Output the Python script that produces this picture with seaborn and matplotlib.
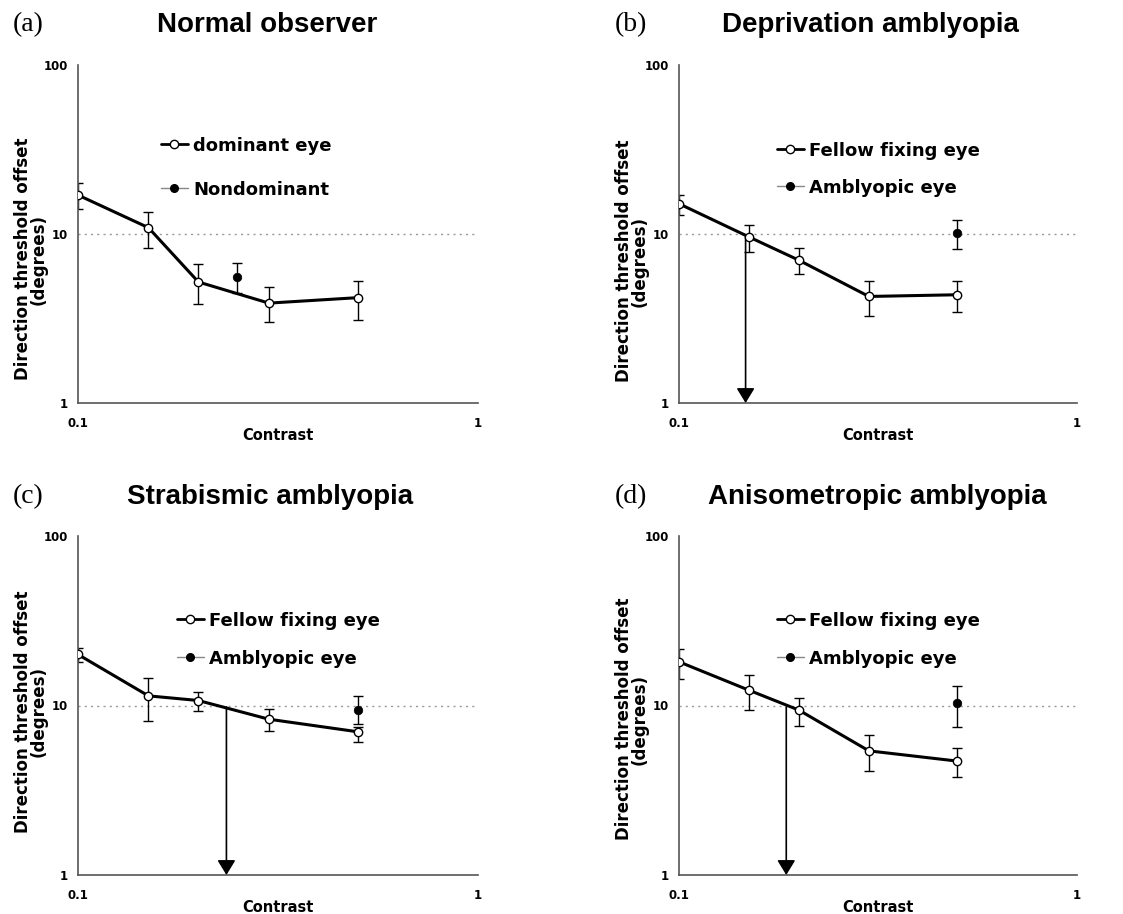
import numpy as np
import pandas as pd
import matplotlib
matplotlib.use("Agg")
import matplotlib.pyplot as plt
import seaborn as sns
from matplotlib.ticker import FixedLocator, FixedFormatter, NullLocator
from matplotlib.lines import Line2D

# ---------------- data ----------------
contrast = [0.1, 0.15, 0.2, 0.3, 0.5]

a_fellow = [17.0, 10.9, 5.2, 3.9, 4.2]
a_fellow_hi = [20.0, 13.5, 6.6, 4.85, 5.3]
a_fellow_lo = [14.0, 8.25, 3.85, 3.03, 3.1]
a_other_x = [0.25]
a_other = [5.6]
a_other_hi = [6.7]
a_other_lo = [4.5]

b_fellow = [15.1, 9.6, 7.0, 4.27, 4.37]
b_fellow_hi = [17.0, 11.3, 8.25, 5.24, 5.24]
b_fellow_lo = [13.0, 7.8, 5.8, 3.25, 3.47]
b_other_x = [0.5]
b_other = [10.1]
b_other_hi = [12.1]
b_other_lo = [8.2]
b_arrow = 0.147

c_fellow = [20.0, 11.4, 10.7, 8.3, 7.0]
c_fellow_hi = [21.9, 14.6, 12.0, 9.6, 7.5]
c_fellow_lo = [18.1, 8.1, 9.3, 7.1, 6.1]
c_other_x = [0.5]
c_other = [9.45]
c_other_hi = [11.4]
c_other_lo = [7.8]
c_arrow = 0.235

d_fellow = [18.1, 12.3, 9.4, 5.4, 4.7]
d_fellow_hi = [21.6, 15.1, 11.0, 6.7, 5.6]
d_fellow_lo = [14.4, 9.45, 7.6, 4.1, 3.8]
d_other_x = [0.5]
d_other = [10.3]
d_other_hi = [13.1]
d_other_lo = [7.5]
d_arrow = 0.186

arrow_top = 9.8

titles = ["Normal observer", "Deprivation amblyopia",
          "Strabismic amblyopia", "Anisometropic amblyopia"]
letters = ["(a)", "(b)", "(c)", "(d)"]
legend_a = ["dominant eye", "Nondominant"]
legend_amb = ["Fellow fixing eye", "Amblyopic eye"]
x_ticks = [0.1, 1]
x_ticklabels = ["0.1", "1"]
y_ticks = [1, 10, 100]
y_ticklabels = ["1", "10", "100"]

# ---------------- style ----------------
sns.set_style("white")
plt.rcParams['font.family'] = ['DejaVu Sans']
plt.rcParams['text.color'] = 'black'
plt.rcParams['axes.labelcolor'] = 'black'
plt.rcParams['xtick.labelcolor'] = 'black'
plt.rcParams['ytick.labelcolor'] = 'black'

W, H = 1123, 914
fig = plt.figure(figsize=(W / 100, H / 100), dpi=100)

# axes boxes in pixels: left, top, right, bottom
boxes = [(78, 65, 478, 403), (679, 65, 1077, 403),
         (78, 536, 478, 875), (679, 536, 1077, 875)]
ylabel_frac = [0.426, 0.420, 0.481, 0.46]

panels = [
    dict(f=a_fellow, fh=a_fellow_hi, fl=a_fellow_lo, ox=a_other_x, o=a_other,
         oh=a_other_hi, ol=a_other_lo, arrow=None, leg=legend_a,
         legpos=(163, 148, 192)),
    dict(f=b_fellow, fh=b_fellow_hi, fl=b_fellow_lo, ox=b_other_x, o=b_other,
         oh=b_other_hi, ol=b_other_lo, arrow=b_arrow, leg=legend_amb,
         legpos=(779, 153, 190)),
    dict(f=c_fellow, fh=c_fellow_hi, fl=c_fellow_lo, ox=c_other_x, o=c_other,
         oh=c_other_hi, ol=c_other_lo, arrow=c_arrow, leg=legend_amb,
         legpos=(179, 623, 661)),
    dict(f=d_fellow, fh=d_fellow_hi, fl=d_fellow_lo, ox=d_other_x, o=d_other,
         oh=d_other_hi, ol=d_other_lo, arrow=d_arrow, leg=legend_amb,
         legpos=(779, 623, 661)),
]

title_pos = [(267, 25), (870, 25), (270, 497), (877, 497)]
letter_pos = [(13, 25), (615, 25), (13, 497), (615, 497)]

spine_col = "#555555"

for i, (box, p) in enumerate(zip(boxes, panels)):
    l, t, r, b = box
    ax = fig.add_axes([l / W, 1 - b / H, (r - l) / W, (b - t) / H])
    ax.set_xscale("log")
    ax.set_yscale("log")
    ax.set_xlim(0.1, 1)
    ax.set_ylim(1, 100)

    # dotted reference line
    ax.axhline(10, color="#999999", lw=1, ls=(0, (1.5, 3)), zorder=1)

    df = pd.DataFrame({"contrast": contrast, "thr": p["f"]})
    yerr = [np.array(p["f"]) - np.array(p["fl"]), np.array(p["fh"]) - np.array(p["f"])]
    ax.errorbar(contrast, p["f"], yerr=yerr, fmt="none", ecolor="black",
                elinewidth=1, capsize=3.5, capthick=1, zorder=2)
    sns.lineplot(data=df, x="contrast", y="thr", ax=ax, color="black", lw=2.2,
                 marker="o", markersize=6, markerfacecolor="white",
                 markeredgecolor="black", markeredgewidth=1, zorder=4)

    yerr_o = [np.array(p["o"]) - np.array(p["ol"]), np.array(p["oh"]) - np.array(p["o"])]
    ax.errorbar(p["ox"], p["o"], yerr=yerr_o, fmt="none", ecolor="black",
                elinewidth=1, capsize=3.5, capthick=1, zorder=2)
    dfo = pd.DataFrame({"contrast": p["ox"], "thr": p["o"]})
    sns.scatterplot(data=dfo, x="contrast", y="thr", ax=ax, color="black",
                    s=38, edgecolor="black", zorder=5)

    if p["arrow"] is not None:
        ax.annotate("", xy=(p["arrow"], 1), xytext=(p["arrow"], arrow_top),
                    arrowprops=dict(arrowstyle="-|>,head_width=0.55,head_length=0.9",
                                    color="black", lw=1.2, shrinkA=0, shrinkB=0),
                    zorder=3)

    for s in ["top", "right"]:
        ax.spines[s].set_visible(False)
    for s in ["left", "bottom"]:
        ax.spines[s].set_color(spine_col)
        ax.spines[s].set_linewidth(1.2)
    ax.xaxis.set_major_locator(FixedLocator(x_ticks))
    ax.xaxis.set_major_formatter(FixedFormatter(x_ticklabels))
    ax.yaxis.set_major_locator(FixedLocator(y_ticks))
    ax.yaxis.set_major_formatter(FixedFormatter(y_ticklabels))
    ax.xaxis.set_minor_locator(NullLocator())
    ax.yaxis.set_minor_locator(NullLocator())
    ax.tick_params(axis="both", which="major", direction="out", length=4,
                   width=1, color=spine_col, labelsize=8.5, labelcolor="black")
    ax.tick_params(axis="x", pad=6)
    ax.tick_params(axis="y", pad=3)
    for lab in ax.get_xticklabels() + ax.get_yticklabels():
        lab.set_fontweight("bold")
    ax.set_xlabel("Contrast", fontsize=10.5, fontweight="bold", labelpad=-1)
    ax.set_ylabel("Direction threshold offset\n(degrees)", fontsize=12,
                  fontweight="bold", labelpad=-3, linespacing=0.85)
    ax.yaxis.label.set_y(ylabel_frac[i])

    h1 = Line2D([], [], color="black", lw=2, marker="o", markersize=6,
                markerfacecolor="white", markeredgecolor="black", markeredgewidth=1)
    h2 = Line2D([], [], color="#888888", lw=1, marker="o", markersize=5.5,
                markerfacecolor="black", markeredgecolor="black")
    lx, y1, y2 = p["legpos"]
    fs = 13
    fpx = fs * 100 / 72
    lsp = (y2 - y1 - fpx) / fpx
    leg = ax.legend([h1, h2], p["leg"], loc="upper left",
                    bbox_to_anchor=((lx - 6 - l) / (r - l), 1 - (y1 - 15 - t) / (b - t)),
                    frameon=False, fontsize=fs, handlelength=1.5, handletextpad=0.3,
                    labelspacing=lsp, borderaxespad=0, borderpad=0.2)
    for txt in leg.get_texts():
        txt.set_fontweight("bold")
        txt.set_color("black")

    tx, ty = title_pos[i]
    fig.text(tx / W, 1 - ty / H, titles[i], ha="center", va="center",
             fontsize=20, fontweight="bold", family="Liberation Sans", color="black")
    lxp, lyp = letter_pos[i]
    fig.text(lxp / W, 1 - lyp / H, letters[i], ha="left", va="center",
             fontsize=20, family="Liberation Serif", color="black")

fig.savefig("out.png", dpi=100)
